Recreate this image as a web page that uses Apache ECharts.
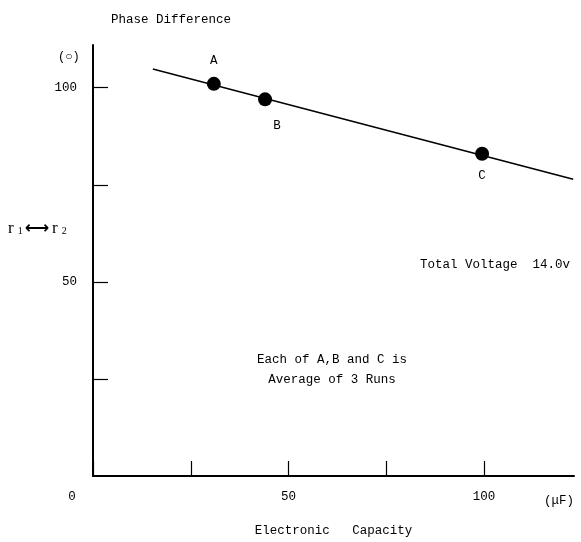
<!DOCTYPE html>
<html>
<head>
<meta charset="utf-8">
<script src="https://cdn.jsdelivr.net/npm/echarts@6/dist/echarts.min.js"></script>
<style>
html,body{margin:0;padding:0;background:#fff;}
#chart{width:581px;height:542px;}
</style>
</head>
<body>
<div id="chart"></div>
<script>
// ---- data ----
var pointNames = ['A', 'B', 'C'];
var pointX = [30.9, 44.0, 99.5];
var pointY = [101.0, 97.0, 83.0];
var lineX = [15.3, 122.8];
var lineY = [104.8, 76.4];
var xTickLabels = [0, 50, 100];
var yTickLabels = [50, 100];

var FONT = 'Liberation Mono';
var labelOffsets = [[0, -23], [12, 26], [0, 22]];

var chart = echarts.init(document.getElementById('chart'));

var pts = pointNames.map(function (n, i) {
  return {
    name: n,
    value: [pointX[i], pointY[i]],
    label: { show: true, position: 'inside', offset: labelOffsets[i], formatter: n }
  };
});
var lineData = lineX.map(function (x, i) { return [x, lineY[i]]; });

chart.setOption({
  animation: false,
  backgroundColor: '#fff',
  textStyle: { fontFamily: FONT, color: '#000' },
  title: {
    text: 'Phase Difference',
    left: 106, top: 8,
    textStyle: { fontFamily: FONT, fontSize: 12.5, fontWeight: 'normal', color: '#000' }
  },
  grid: { left: 93, right: 7, top: 45, bottom: 61, containLabel: false },
  xAxis: {
    type: 'value', min: 0, max: 123, interval: 25,
    name: 'Electronic   Capacity', nameLocation: 'middle', nameGap: 48,
    nameTextStyle: { fontFamily: FONT, fontSize: 12.5, color: '#000' },
    axisLine: { show: true, onZero: false, lineStyle: { color: '#000', width: 2 } },
    axisTick: { show: true, inside: true, length: 15, lineStyle: { color: '#000', width: 1.2 } },
    splitLine: { show: false },
    axisLabel: {
      color: '#000', fontFamily: FONT, fontSize: 12.5, margin: 14,
      showMaxLabel: false,
      formatter: function (v) {
        if (xTickLabels.indexOf(v) < 0) return '';
        return v === 0 ? '{z|0}' : String(v);
      },
      rich: { z: { fontFamily: FONT, fontSize: 12.5, color: '#000', padding: [0, 42, 0, 0] } }
    }
  },
  yAxis: {
    type: 'value', min: 0, max: 111, interval: 25,
    axisLine: { show: true, onZero: false, lineStyle: { color: '#000', width: 2 } },
    axisTick: { show: true, inside: true, length: 15, lineStyle: { color: '#000', width: 1.2 } },
    splitLine: { show: false },
    axisLabel: {
      color: '#000', fontFamily: FONT, fontSize: 12.5, margin: 16,
      showMinLabel: false, showMaxLabel: false,
      formatter: function (v) { return yTickLabels.indexOf(v) >= 0 ? String(v) : ''; }
    }
  },
  graphic: [
    { type: 'text', x: 58, y: 51, style: { text: '(\u25CB)', font: '12px ' + FONT, fill: '#000' } },
    { type: 'text', x: 8, y: 220, style: {
        text: '{r|r}{s|1}{a|\u27F7}{r|r}{s|2}',
        rich: {
          r: { font: '17px "Liberation Serif"', fill: '#000', padding: [0, 2, 0, 0] },
          s: { font: '10px "Liberation Serif"', fill: '#000', padding: [6, 2, 0, 2] },
          a: { font: 'bold 17px "DejaVu Sans"', fill: '#000', padding: [0, 3, 0, 0] }
        }
    } },
    { type: 'text', x: 544, y: 494, style: { text: '(\u03BCF)', font: '12.5px ' + FONT, fill: '#000' } },
    { type: 'text', x: 420, y: 258, style: { text: 'Total Voltage  14.0v', font: '12.5px ' + FONT, fill: '#000' } },
    { type: 'text', x: 332, y: 350, style: { text: 'Each of A,B and C is\nAverage of 3 Runs', font: '12.5px ' + FONT, fill: '#000', align: 'center', lineHeight: 20 } }
  ],
  series: [
    {
      type: 'line', data: lineData, symbol: 'none',
      lineStyle: { color: '#000', width: 1.5 }, z: 2
    },
    {
      type: 'scatter', data: pts, symbol: 'circle', symbolSize: 14,
      itemStyle: { color: '#000', opacity: 1 },
      label: { color: '#000', fontFamily: FONT, fontSize: 12.5 },
      z: 3
    }
  ]
});
</script>
</body>
</html>
